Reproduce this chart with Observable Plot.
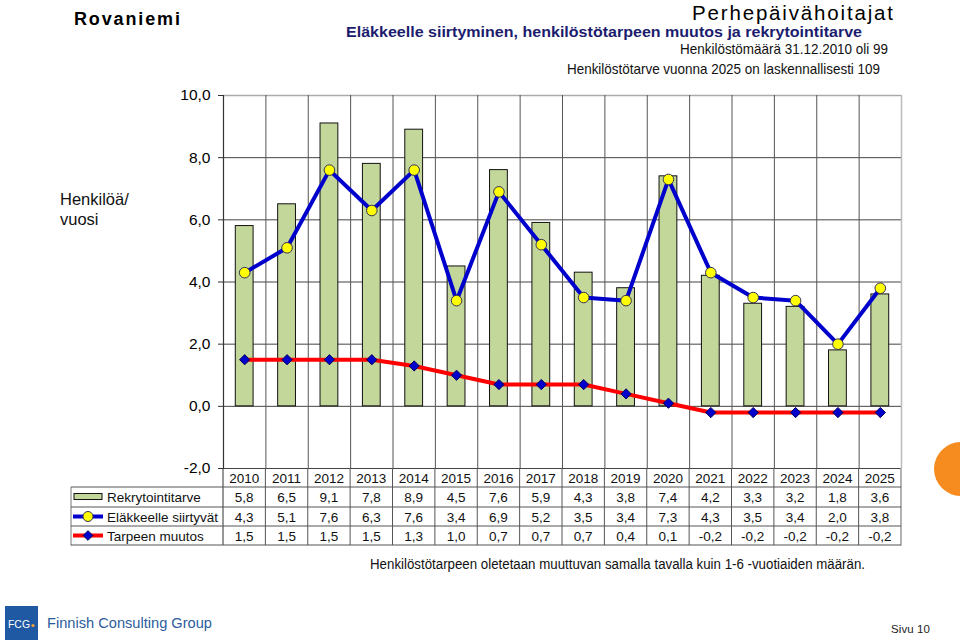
<!DOCTYPE html>
<html>
<head>
<meta charset="utf-8">
<script src="https://cdn.jsdelivr.net/npm/d3@7"></script>
<script src="https://cdn.jsdelivr.net/npm/@observablehq/plot@0.6"></script>
<style>
  html, body { margin: 0; padding: 0; background: #fff; }
  #wrap { position: relative; width: 960px; height: 641px; overflow: hidden; font-family: "Liberation Sans", Arial, sans-serif; }
  #wrap svg { position: absolute; left: 0; top: 0; }
</style>
</head>
<body>
<div id="wrap"></div>
<script>
// ---- data ----
const years = [2010, 2011, 2012, 2013, 2014, 2015, 2016, 2017, 2018, 2019, 2020, 2021, 2022, 2023, 2024, 2025];
const rekrytointitarve = [5.8, 6.5, 9.1, 7.8, 8.9, 4.5, 7.6, 5.9, 4.3, 3.8, 7.4, 4.2, 3.3, 3.2, 1.8, 3.6];
const elakkeelle = [4.3, 5.1, 7.6, 6.3, 7.6, 3.4, 6.9, 5.2, 3.5, 3.4, 7.3, 4.3, 3.5, 3.4, 2.0, 3.8];
const muutos = [1.5, 1.5, 1.5, 1.5, 1.3, 1.0, 0.7, 0.7, 0.7, 0.4, 0.1, -0.2, -0.2, -0.2, -0.2, -0.2];
const yTicks = [-2, 0, 2, 4, 6, 8, 10];
const seriesNames = ["Rekrytointitarve", "Eläkkeelle siirtyvät", "Tarpeen muutos"];

const fmt = v => d3.format(".1f")(v).replace(".", ",").replace("−", "-");

const rows = years.map((y, i) => ({year: y, rek: rekrytointitarve[i], ela: elakkeelle[i], muu: muutos[i]}));
const boundaries = years.slice(1).map(y => y - 0.5);

const plot = Plot.plot({
  width: 960,
  height: 641,
  marginTop: 95,
  marginBottom: 173,
  marginLeft: 223,
  marginRight: 59,
  style: {fontFamily: "Liberation Sans, Arial, sans-serif", fontSize: "15px", color: "black", background: "transparent"},
  x: {type: "linear", domain: [years[0] - 0.5, years[years.length - 1] + 0.5], axis: null},
  y: {domain: [-2, 10], axis: null},
  marks: [
    Plot.ruleY(yTicks.filter(t => t < 10), {stroke: "#444", strokeWidth: 1}),
    Plot.ruleY([10], {stroke: "#aaa", strokeWidth: 1.5}),
    Plot.ruleX(boundaries, {y1: -2, y2: 10, stroke: "#555", strokeWidth: 1}),
    Plot.ruleX([years[years.length - 1] + 0.5], {y1: -2, y2: 10, stroke: "#bbb", strokeWidth: 1.5}),
    Plot.rectY(rows, {x1: d => d.year - 0.21, x2: d => d.year + 0.21, y1: 0, y2: "rek", fill: "#c4d79b", stroke: "#111", strokeWidth: 1}),
    Plot.line(rows, {x: "year", y: "muu", stroke: "#ff0000", strokeWidth: 4}),
    Plot.dot(rows, {x: "year", y: "muu", symbol: "diamond2", r: 4.6, fill: "#0000cc", stroke: "#000055", strokeWidth: 1}),
    Plot.line(rows, {x: "year", y: "ela", stroke: "#0000cc", strokeWidth: 4}),
    Plot.dot(rows, {x: "year", y: "ela", r: 5.3, fill: "#ffff00", stroke: "#333355", strokeWidth: 1}),
    Plot.ruleX([years[0] - 0.5], {y1: -2, y2: 10, stroke: "#333", strokeWidth: 1.2}),
    Plot.axisY({ticks: yTicks, tickFormat: fmt, tickSize: 5, tickPadding: 8, fontSize: 15.5, label: null, stroke: "#333"})
  ]
});
const wrap = document.getElementById("wrap");
wrap.appendChild(plot);

const xs = plot.scale("x");
const X = v => xs.apply(v);
const xL = X(years[0] - 0.5), xR = X(years[years.length - 1] + 0.5);

const svg = d3.select(wrap).append("svg").attr("width", 960).attr("height", 641)
  .style("font-family", "Liberation Sans, Arial, sans-serif");

// ---- header texts ----
function txt(s, x, y, opts) {
  const t = svg.append("text").attr("x", x).attr("y", y).text(s)
    .attr("font-size", opts.size).attr("fill", opts.fill || "#000");
  if (opts.weight) t.attr("font-weight", opts.weight);
  if (opts.anchor) t.attr("text-anchor", opts.anchor);
  if (opts.len) t.attr("textLength", opts.len).attr("lengthAdjust", opts.adj || "spacingAndGlyphs");
  return t;
}
txt("Rovaniemi", 74, 25, {size: 18, weight: "bold", len: 106, adj: "spacing"});
txt("Perhepäivähoitajat", 692, 19.5, {size: 20.5, len: 201, adj: "spacing"});
txt("Eläkkeelle siirtyminen, henkilöstötarpeen muutos ja rekrytointitarve", 346, 37, {size: 15.5, weight: "bold", fill: "#1c1c6e", len: 516});
txt("Henkilöstömäärä 31.12.2010 oli 99", 680, 54, {size: 14.5, fill: "#111", len: 208});
txt("Henkilöstötarve vuonna 2025 on laskennallisesti 109", 567, 74, {size: 14.5, fill: "#111", len: 313});
txt("Henkilöä/", 60, 205, {size: 16.5, fill: "#111"});
txt("vuosi", 60, 225, {size: 16.5, fill: "#111"});

// ---- data table ----
const rowTops = [487, 507, 526, 545];
const headerBase = 483;
const tb = svg.append("g").attr("font-size", 13.5).attr("fill", "#111");
years.slice(1).forEach(y => tb.append("line").attr("x1", X(y - 0.5)).attr("x2", X(y - 0.5)).attr("y1", 468).attr("y2", 545).attr("stroke", "#555"));
tb.append("line").attr("x1", xL).attr("x2", xL).attr("y1", 468).attr("y2", 545).attr("stroke", "#333");
tb.append("line").attr("x1", xR).attr("x2", xR).attr("y1", 468).attr("y2", 545.5).attr("stroke", "#999").attr("stroke-width", 1.5);
tb.append("line").attr("x1", 71).attr("x2", 71).attr("y1", 487).attr("y2", 545.5).attr("stroke", "#777");
rowTops.forEach(ty => tb.append("line").attr("x1", 71).attr("x2", xR).attr("y1", ty).attr("y2", ty).attr("stroke", "#555"));
years.forEach(y => tb.append("text").attr("x", X(y)).attr("y", headerBase).attr("text-anchor", "middle").text(y));
const seriesVals = [rekrytointitarve, elakkeelle, muutos];
seriesVals.forEach((vals, r) => {
  const base = (rowTops[r] + rowTops[r + 1]) / 2 + 5;
  vals.forEach((v, i) => tb.append("text").attr("x", X(years[i])).attr("y", base).attr("text-anchor", "middle").text(fmt(v)));
  tb.append("text").attr("x", 107).attr("y", base).text(seriesNames[r]);
});
const midY = r => (rowTops[r] + rowTops[r + 1]) / 2;
tb.append("rect").attr("x", 74).attr("y", midY(0) - 3.5).attr("width", 28).attr("height", 6).attr("fill", "#c4d79b").attr("stroke", "#111");
tb.append("line").attr("x1", 73).attr("x2", 103).attr("y1", midY(1)).attr("y2", midY(1)).attr("stroke", "#0000cc").attr("stroke-width", 4);
tb.append("circle").attr("cx", 88).attr("cy", midY(1)).attr("r", 5).attr("fill", "#ffff00").attr("stroke", "#333355");
tb.append("line").attr("x1", 73).attr("x2", 103).attr("y1", midY(2)).attr("y2", midY(2)).attr("stroke", "#ff0000").attr("stroke-width", 4);
tb.append("path").attr("d", d3.symbol(d3.symbolDiamond2, 60)()).attr("transform", `translate(88,${midY(2)})`).attr("fill", "#0000cc").attr("stroke", "#000055");

// ---- footnote, decorations ----
txt("Henkilöstötarpeen oletetaan muuttuvan samalla tavalla kuin 1-6 -vuotiaiden määrän.", 370, 569, {size: 14, fill: "#111", len: 495});
svg.append("circle").attr("cx", 961).attr("cy", 469).attr("r", 27).attr("fill", "#f68b1f");
svg.append("rect").attr("x", 5).attr("y", 606).attr("width", 33).attr("height", 34).attr("fill", "#1f58a3");
txt("FCG", 8, 628, {size: 11, fill: "#fff", len: 22});
svg.append("circle").attr("cx", 33).attr("cy", 625.5).attr("r", 1.6).attr("fill", "#f2a23a");
txt("Finnish Consulting Group", 47, 628, {size: 14, fill: "#2c5c9c", len: 165});
txt("Sivu 10", 891, 633, {size: 11.5, fill: "#222", len: 39, adj: "spacing"});
</script>
</body>
</html>
